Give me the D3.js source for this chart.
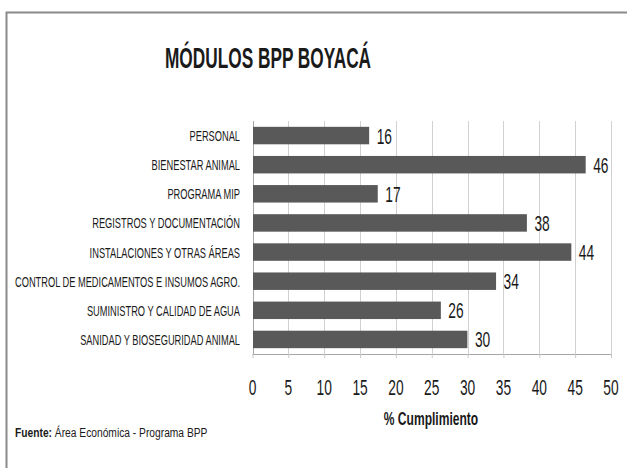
<!DOCTYPE html>
<html>
<head>
<meta charset="utf-8">
<script src="https://cdn.jsdelivr.net/npm/d3@7"></script>
<style>
  html, body { margin: 0; padding: 0; background: #fff; }
  svg { display: block; }
  text { font-family: "Liberation Sans", Arial, sans-serif; fill: #1a1a1a; }
</style>
</head>
<body>
<svg id="chart" width="627" height="468"></svg>
<script>
const titleText = "MÓDULOS BPP BOYACÁ";
const categories = [
  "PERSONAL",
  "BIENESTAR ANIMAL",
  "PROGRAMA MIP",
  "REGISTROS Y DOCUMENTACIÓN",
  "INSTALACIONES Y OTRAS ÁREAS",
  "CONTROL DE MEDICAMENTOS E INSUMOS AGRO.",
  "SUMINISTRO Y CALIDAD DE AGUA",
  "SANIDAD Y BIOSEGURIDAD ANIMAL"
];
const values = [16.2, 46.4, 17.4, 38.2, 44.4, 33.9, 26.2, 29.9];
const xTicks = [0, 5, 10, 15, 20, 25, 30, 35, 40, 45, 50];
const xAxisTitle = "% Cumplimiento";
const sourceBold = "Fuente:";
const sourceText = " Área Económica - Programa BPP";

const svg = d3.select("#chart");

function label(g, x, y, txt, size, anchor, weight, sx) {
  return g.append("text")
    .attr("transform", `translate(${x},${y}) scale(${sx},1)`)
    .attr("text-anchor", anchor)
    .attr("font-size", size)
    .attr("font-weight", weight || "normal")
    .text(txt);
}

// frame
svg.append("rect")
  .attr("x", 6.5).attr("y", 12.5)
  .attr("width", 700).attr("height", 600)
  .attr("fill", "none").attr("stroke", "#8a8a8a").attr("stroke-width", 2);

// title
label(svg, 268, 68, titleText, 29.5, "middle", "bold", 0.585).attr("fill", "#000");

const x = d3.scaleLinear().domain([0, 50]).range([252.5, 611]);
const y = d3.scaleBand().domain(categories).range([121, 354]).paddingInner(0.4).paddingOuter(0.2);

// gridlines
svg.append("g").selectAll("line").data(xTicks).join("line")
  .attr("x1", d => Math.round(x(d)) + 0.5).attr("x2", d => Math.round(x(d)) + 0.5)
  .attr("y1", 121).attr("y2", 354)
  .attr("stroke", "#d0d0d0").attr("stroke-width", 1);

// left axis line
svg.append("line")
  .attr("x1", Math.round(x(0)) + 0.5).attr("x2", Math.round(x(0)) + 0.5)
  .attr("y1", 121).attr("y2", 354.5)
  .attr("stroke", "#a6a6a6");

// bottom axis
const xAxis = svg.append("g")
  .attr("transform", "translate(0,354)")
  .call(d3.axisBottom(x).tickValues(xTicks).tickSize(4).tickFormat(""));
xAxis.select(".domain").attr("stroke", "#a6a6a6").attr("d", `M${x(0)},0.5H${x(50)}`);
xAxis.selectAll(".tick line").attr("stroke", "#c8c8c8");

// tick labels
const tl = svg.append("g");
xTicks.forEach(t => label(tl, x(t), 395, String(t), 21.5, "middle", "normal", 0.64));

// bars
svg.append("g").selectAll("rect").data(values).join("rect")
  .attr("x", x(0) + 0.5)
  .attr("y", (d, i) => y(categories[i]))
  .attr("width", d => x(d) - x(0))
  .attr("height", y.bandwidth())
  .attr("fill", "#595959");

// value labels
const vl = svg.append("g");
values.forEach((v, i) => {
  label(vl, x(v) + 8, y(categories[i]) + y.bandwidth() / 2 + 8, String(Math.round(v)), 21.5, "start", "normal", 0.64);
});

// category labels
const cl = svg.append("g");
categories.forEach(c => {
  label(cl, 240, y(c) + y.bandwidth() / 2 + 5.5, c, 14.5, "end", "normal", 0.64);
});

// axis title
label(svg, 431, 425, xAxisTitle, 17.5, "middle", "bold", 0.69);

// source
const src = svg.append("text")
  .attr("transform", `translate(15,437) scale(0.82,1)`)
  .attr("font-size", 12.5);
src.append("tspan").attr("font-weight", "bold").text(sourceBold);
src.append("tspan").text(sourceText);
</script>
</body>
</html>
